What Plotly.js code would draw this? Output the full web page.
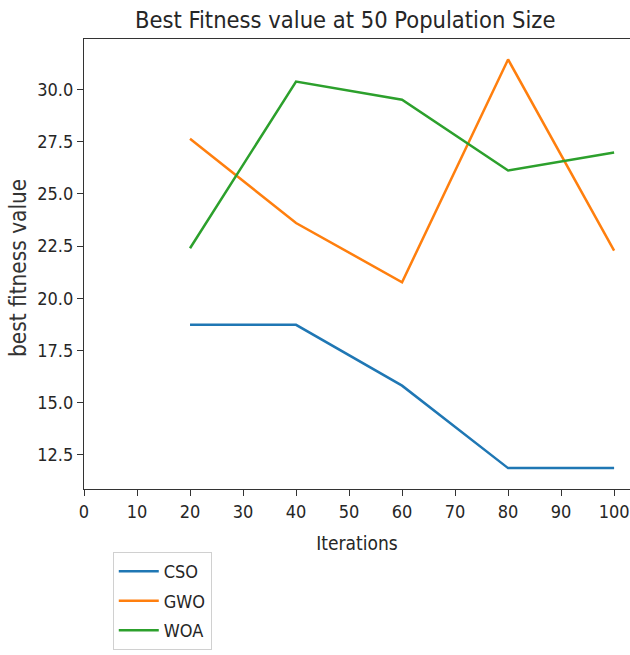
<!DOCTYPE html>
<html>
<head>
<meta charset="utf-8">
<script src="https://cdn.plot.ly/plotly-3.0.1.min.js"></script>
<style>
  html, body { margin: 0; padding: 0; background: #fff; }
  #chart { width: 630px; height: 655px; }
</style>
</head>
<body>
<div id="chart"></div>
<script>
const iterations = [20, 40, 60, 80, 100];
const csoValues = [18.73, 18.73, 15.82, 11.87, 11.87];
const gwoValues = [27.64, 23.61, 20.77, 31.44, 22.29];
const woaValues = [22.40, 30.38, 29.51, 26.12, 26.98];
const seriesNames = ["CSO", "GWO", "WOA"];
const xTickValues = [0, 10, 20, 30, 40, 50, 60, 70, 80, 90, 100];
const yTickValues = [12.5, 15.0, 17.5, 20.0, 22.5, 25.0, 27.5, 30.0];

const FONT = '"DejaVu Sans Condensed", "Liberation Sans Narrow", "DejaVu Sans", sans-serif';
const colors = ["#1f77b4", "#ff7f0e", "#2ca02c"];
const allValues = [csoValues, gwoValues, woaValues];

const traces = allValues.map((vals, i) => ({
  type: "scatter",
  mode: "lines",
  x: iterations,
  y: vals,
  name: seriesNames[i],
  legendgroup: "g" + i,
  line: { color: colors[i], width: 2.5 }
}));

const layout = {
  width: 630,
  height: 655,
  margin: { l: 84, r: 0, t: 39, b: 166, autoexpand: false },
  paper_bgcolor: "#ffffff",
  plot_bgcolor: "#ffffff",
  font: { family: FONT, color: "#262626", size: 18 },
  title: {
    text: "Best Fitness value at 50 Population Size",
    font: { family: FONT, size: 23.5, color: "#262626" },
    x: 0.548, xanchor: "center",
    y: 0.970, yanchor: "middle"
  },
  xaxis: {
    range: [0, 103.0],
    automargin: false,
    tickvals: xTickValues,
    ticktext: xTickValues.map(String),
    showgrid: false,
    zeroline: false,
    showline: true,
    mirror: true,
    linecolor: "#333333",
    linewidth: 1.2,
    ticks: "outside",
    ticklen: 6,
    tickcolor: "#333333",
    tickfont: { family: FONT, size: 18, color: "#262626" },
    title: { text: "Iterations", font: { family: FONT, size: 19, color: "#262626" }, standoff: 16 }
  },
  yaxis: {
    range: [10.87, 32.42],
    automargin: false,
    tickvals: yTickValues,
    ticktext: yTickValues.map(v => v.toFixed(1)),
    showgrid: false,
    zeroline: false,
    showline: true,
    mirror: false,
    linecolor: "#333333",
    linewidth: 1.2,
    ticks: "outside",
    ticklen: 6,
    tickcolor: "#333333",
    tickfont: { family: FONT, size: 18, color: "#262626" }
  },
  annotations: [{
    text: "best fitness value",
    xref: "paper", yref: "paper",
    x: -0.121, y: 0.491,
    xanchor: "center", yanchor: "middle",
    textangle: -90,
    showarrow: false,
    font: { family: FONT, size: 22.4, color: "#333333" }
  }],
  showlegend: true,
  legend: {
    xref: "container", yref: "container",
    x: 0.179, xanchor: "left",
    y: 0.157, yanchor: "top",
    bgcolor: "#ffffff",
    bordercolor: "#d0d0d0",
    borderwidth: 1,
    tracegroupgap: 3,
    font: { family: FONT, size: 18, color: "#262626" },
    itemwidth: 40
  }
};

Plotly.newPlot("chart", traces, layout, { displayModeBar: false, staticPlot: true });
</script>
</body>
</html>
